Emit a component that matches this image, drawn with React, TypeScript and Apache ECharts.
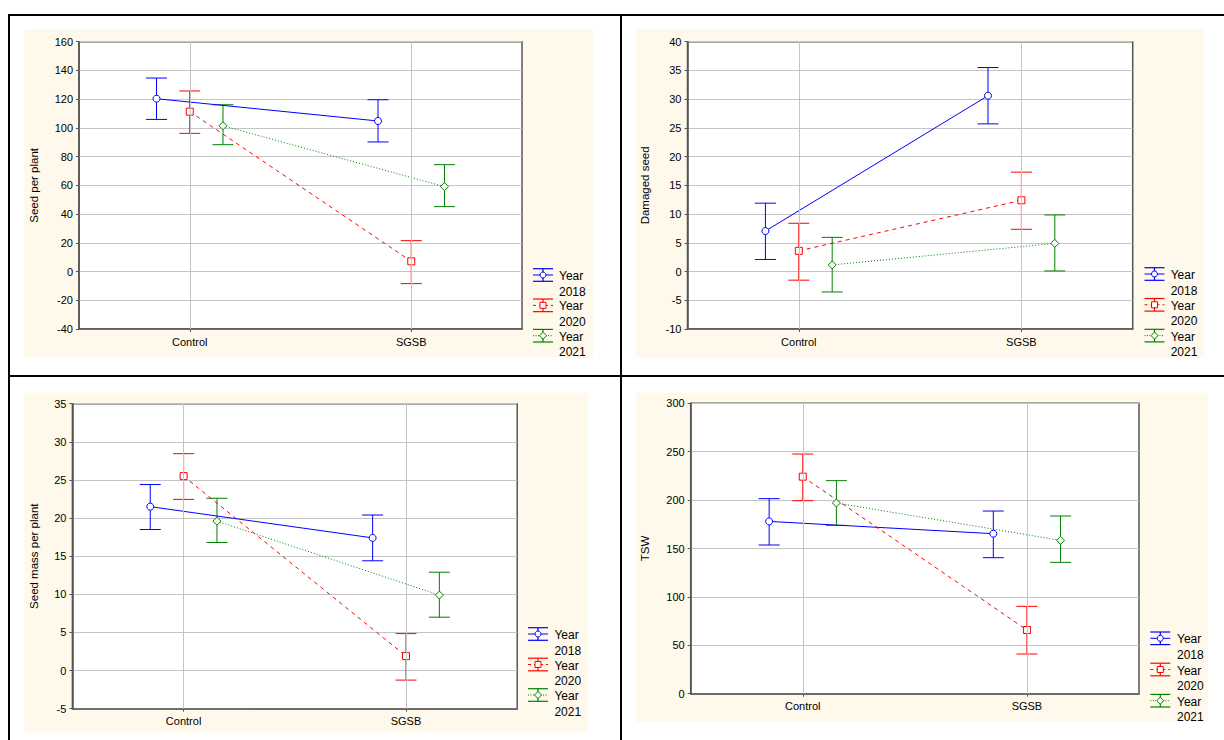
import React, { useEffect, useRef } from 'react';
import * as echarts from 'echarts';

// ---------- data ----------
const categories = ['Control', 'SGSB'];
const years = ['2018', '2020', '2021'];
const seriesColors = ['#0000ff', '#ff0000', '#008000'];
const seriesSymbols = ['circle', 'rect', 'diamond'];

// Panel 1: Seed per plant
const seedMean2018 = [120.3, 104.8];
const seedLow2018 = [105.9, 90.2];
const seedHigh2018 = [134.7, 119.6];
const seedMean2020 = [111.3, 7.1];
const seedLow2020 = [96.2, -8.4];
const seedHigh2020 = [125.7, 21.5];
const seedMean2021 = [101.5, 59.1];
const seedLow2021 = [88.3, 45.2];
const seedHigh2021 = [116.1, 74.4];

// Panel 2: Damaged seed
const damMean2018 = [7.05, 30.6];
const damLow2018 = [2.1, 25.7];
const damHigh2018 = [11.9, 35.5];
const damMean2020 = [3.6, 12.4];
const damLow2020 = [-1.5, 7.35];
const damHigh2020 = [8.4, 17.3];
const damMean2021 = [1.15, 4.9];
const damLow2021 = [-3.55, 0.1];
const damHigh2021 = [5.95, 9.85];

// Panel 3: Seed mass per plant
const massMean2018 = [21.5, 17.4];
const massLow2018 = [18.5, 14.4];
const massHigh2018 = [24.4, 20.4];
const massMean2020 = [25.5, 1.9];
const massLow2020 = [22.45, -1.25];
const massHigh2020 = [28.45, 4.85];
const massMean2021 = [19.6, 9.9];
const massLow2021 = [16.8, 7.0];
const massHigh2021 = [22.6, 12.9];

// Panel 4: TSW
const tswMean2018 = [178.0, 165.3];
const tswLow2018 = [153.6, 140.5];
const tswHigh2018 = [201.5, 188.7];
const tswMean2020 = [224.2, 65.8];
const tswLow2020 = [199.4, 41.0];
const tswHigh2020 = [247.6, 90.2];
const tswMean2021 = [197.0, 158.4];
const tswLow2021 = [173.9, 135.7];
const tswHigh2021 = [220.1, 183.6];

const yTitles = ['Seed per plant', 'Damaged seed', 'Seed mass per plant', 'TSW'];
const yMins = [-40, -10, -5, 0];
const yMaxs = [160, 40, 35, 300];
const yIntervals = [20, 5, 5, 50];

const panels = [
  { mean: [seedMean2018, seedMean2020, seedMean2021], low: [seedLow2018, seedLow2020, seedLow2021], high: [seedHigh2018, seedHigh2020, seedHigh2021] },
  { mean: [damMean2018, damMean2020, damMean2021], low: [damLow2018, damLow2020, damLow2021], high: [damHigh2018, damHigh2020, damHigh2021] },
  { mean: [massMean2018, massMean2020, massMean2021], low: [massLow2018, massLow2020, massLow2021], high: [massHigh2018, massHigh2020, massHigh2021] },
  { mean: [tswMean2018, tswMean2020, tswMean2021], low: [tswLow2018, tswLow2020, tswLow2021], high: [tswHigh2018, tswHigh2020, tswHigh2021] },
];

// ---------- layout ----------
const FONT = 'Liberation Sans, Arial, sans-serif';
const grids = [
  { left: 79, top: 41.7, width: 443, height: 287.3 },
  { left: 687.5, top: 41.7, width: 445.2, height: 287.3 },
  { left: 72.4, top: 403.7, width: 444.8, height: 305 },
  { left: 690.7, top: 403.3, width: 448.3, height: 290.4 },
];
const nameGaps = [39.5, 36.5, 32, 39.7];
const creamRects = [
  { x: 24.5, y: 29.3, w: 568.5, h: 328 },
  { x: 635.5, y: 29, w: 568.5, h: 329 },
  { x: 24.5, y: 392.7, w: 563.5, h: 340 },
  { x: 635.5, y: 392.7, w: 572.5, h: 329 },
];
const legendPos = [
  { gx: 533, tx: 559, y0: 276, step: 30.35 },
  { gx: 1144.5, tx: 1170.7, y0: 275, step: 30.8 },
  { gx: 528, tx: 554.4, y0: 635, step: 30.5 },
  { gx: 1150.3, tx: 1177, y0: 639.3, step: 31.2 },
];
const offsets = [-0.3, 0, 0.3];
const lineTypes: any[] = ['solid', [4, 4], [1, 2]];

function buildOption() {
  const xAxis: any[] = [];
  const yAxis: any[] = [];
  const series: any[] = [];
  const graphic: any[] = [];

  creamRects.forEach((r) => {
    graphic.push({ type: 'rect', z: -10, silent: true, shape: { x: r.x, y: r.y, width: r.w, height: r.h }, style: { fill: '#fff9eb' } });
  });

  grids.forEach((g, p) => {
    xAxis.push({
      type: 'value', gridIndex: p, min: 0, max: 4, interval: 1,
      axisLine: { show: true, onZero: false, lineStyle: { color: '#555', width: 1.5 } },
      axisTick: { show: true, customValues: [1, 3], length: 3, lineStyle: { color: '#555' } },
      axisLabel: {
        customValues: [1, 3], margin: 7, color: '#000', fontFamily: FONT, fontSize: 11,
        formatter: (v: number) => (v === 1 ? categories[0] : v === 3 ? categories[1] : ''),
      },
      splitLine: { show: false },
    });
    yAxis.push({
      type: 'value', gridIndex: p, min: yMins[p], max: yMaxs[p], interval: yIntervals[p],
      name: yTitles[p], nameLocation: 'middle', nameGap: nameGaps[p], nameRotate: 90,
      nameTextStyle: { color: '#000', fontFamily: FONT, fontSize: 11.5 },
      axisLine: { show: true, onZero: false, lineStyle: { color: '#555', width: 1.5 } },
      axisTick: { show: true, length: 3, lineStyle: { color: '#555' } },
      axisLabel: { margin: 6, color: '#000', fontFamily: FONT, fontSize: 11 },
      splitLine: { show: true, lineStyle: { color: '#c4c4c4', width: 1 } },
    });

    const d = panels[p];
    years.forEach((yr, s) => {
      const color = seriesColors[s];
      const xs = categories.map((_, i) => 2 * i + 1 + offsets[s]);
      const custom: any = {
        type: 'custom', name: 'Year ' + yr, xAxisIndex: p, yAxisIndex: p, z: 2,
        encode: { x: 0, y: [1, 2] },
        data: xs.map((x, i) => [x, d.low[s][i], d.high[s][i]]),
        renderItem: (params: any, api: any) => {
          const x = api.value(0);
          const lo = api.coord([x, api.value(1)]);
          const hi = api.coord([x, api.value(2)]);
          const hw = 10.5;
          const st = { stroke: color, lineWidth: 1, fill: 'none' };
          return {
            type: 'group',
            children: [
              { type: 'line', shape: { x1: lo[0], y1: lo[1], x2: hi[0], y2: hi[1] }, style: st },
              { type: 'line', shape: { x1: hi[0] - hw, y1: hi[1], x2: hi[0] + hw, y2: hi[1] }, style: st },
              { type: 'line', shape: { x1: lo[0] - hw, y1: lo[1], x2: lo[0] + hw, y2: lo[1] }, style: st },
            ],
          };
        },
      };
      if (s === 0) {
        custom.markLine = {
          silent: true, symbol: 'none', label: { show: false },
          lineStyle: { color: '#c4c4c4', type: 'solid', width: 1 },
          data: categories.map((_, i) => ({ xAxis: 2 * i + 1 })),
        };
      }
      series.push(custom);
      series.push({
        type: 'line', name: 'Year ' + yr, xAxisIndex: p, yAxisIndex: p, z: 3,
        data: xs.map((x, i) => [x, d.mean[s][i]]),
        symbol: seriesSymbols[s], symbolSize: s === 2 ? 8 : 7,
        itemStyle: { color: '#ffffff', borderColor: color, borderWidth: 1 },
        lineStyle: { color, width: 1, type: lineTypes[s] },
      });
    });

    // legend glyphs + texts
    const L = legendPos[p];
    years.forEach((yr, s) => {
      const color = seriesColors[s];
      const yc = L.y0 + s * L.step;
      const gy = yc - 1;
      const gx0 = L.gx, gx1 = L.gx + 20, gxc = L.gx + 10;
      const st = { stroke: color, lineWidth: 1.2, fill: 'none' };
      const children: any[] = [
        { type: 'line', shape: { x1: gx0, y1: gy - 6.3, x2: gx1, y2: gy - 6.3 }, style: st },
        { type: 'line', shape: { x1: gx0, y1: gy + 6.3, x2: gx1, y2: gy + 6.3 }, style: st },
        { type: 'line', shape: { x1: gxc, y1: gy - 6.3, x2: gxc, y2: gy + 6.3 }, style: st },
        { type: 'line', shape: { x1: gx0, y1: gy, x2: gx1, y2: gy }, style: { stroke: color, lineWidth: 1, lineDash: s === 0 ? null : s === 1 ? [3, 3] : [1, 1.5] } },
      ];
      if (s === 0) children.push({ type: 'circle', shape: { cx: gxc, cy: gy, r: 3 }, style: { fill: '#fff', stroke: color, lineWidth: 1 } });
      if (s === 1) children.push({ type: 'rect', shape: { x: gxc - 3, y: gy - 3, width: 6, height: 6 }, style: { fill: '#fff', stroke: color, lineWidth: 1 } });
      if (s === 2) children.push({ type: 'polygon', shape: { points: [[gxc, gy - 3.5], [gxc + 3.5, gy], [gxc, gy + 3.5], [gxc - 3.5, gy]] }, style: { fill: '#fff', stroke: color, lineWidth: 1 } });
      graphic.push({ type: 'group', z: 5, silent: true, children });
      graphic.push({
        type: 'text', z: 5, silent: true, x: L.tx, y: yc - 7.75,
        style: { text: 'Year\n' + yr, fill: '#000', font: '12px ' + FONT, lineHeight: 15.5, verticalAlign: 'top', align: 'left' },
      });
    });
  });

  // table borders
  const bs = { stroke: '#000', lineWidth: 2 };
  graphic.push({ type: 'line', z: 50, silent: true, shape: { x1: 8, y1: 15, x2: 1224, y2: 15 }, style: bs });
  graphic.push({ type: 'line', z: 50, silent: true, shape: { x1: 8, y1: 376, x2: 1224, y2: 376 }, style: bs });
  graphic.push({ type: 'line', z: 50, silent: true, shape: { x1: 9, y1: 14, x2: 9, y2: 740 }, style: bs });
  graphic.push({ type: 'line', z: 50, silent: true, shape: { x1: 621, y1: 14, x2: 621, y2: 740 }, style: bs });

  return {
    animation: false,
    backgroundColor: '#ffffff',
    textStyle: { fontFamily: FONT },
    grid: grids.map((g) => ({ ...g, show: true, backgroundColor: '#ffffff', borderColor: '#555', borderWidth: 1.5, containLabel: false })),
    xAxis,
    yAxis,
    series,
    graphic,
  };
}

export default function App() {
  const ref = useRef<HTMLDivElement>(null);
  useEffect(() => {
    if (!ref.current) return;
    const chart = echarts.init(ref.current, null, { renderer: 'svg' });
    chart.setOption(buildOption() as any);
    return () => chart.dispose();
  }, []);
  return <div ref={ref} style={{ position: 'absolute', left: 0, top: 0, width: 1224, height: 740 }} />;
}
